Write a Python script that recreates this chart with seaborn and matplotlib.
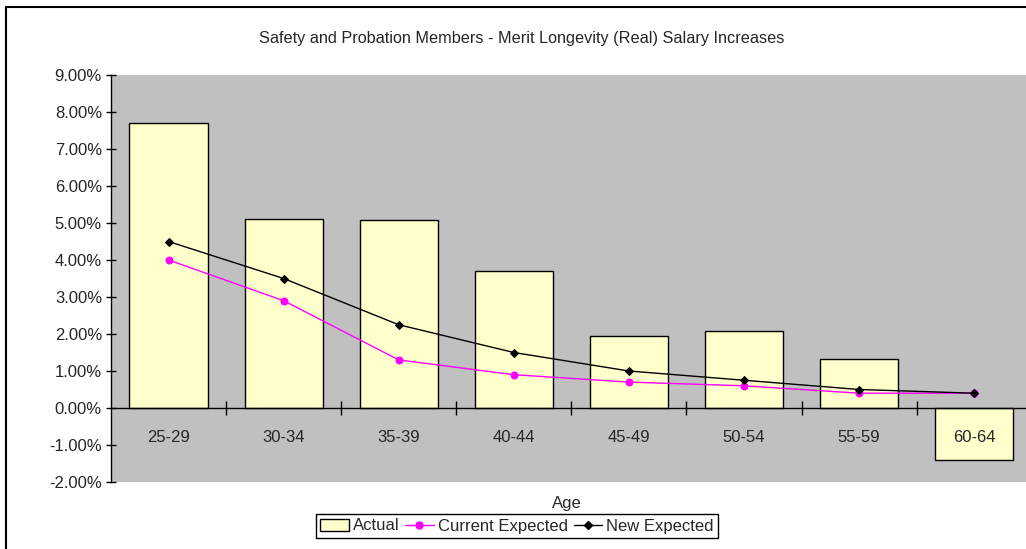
import matplotlib
matplotlib.use("Agg")
import matplotlib.pyplot as plt
import seaborn as sns
import pandas as pd
from matplotlib.patches import Rectangle
from matplotlib.lines import Line2D
from matplotlib.ticker import FuncFormatter, FixedLocator

categories = ["25-29", "30-34", "35-39", "40-44", "45-49", "50-54", "55-59", "60-64"]
actual = [7.70, 5.12, 5.07, 3.69, 1.95, 2.09, 1.33, -1.41]
current_expected = [4.0, 2.9, 1.3, 0.9, 0.7, 0.6, 0.4, 0.4]
new_expected = [4.5, 3.5, 2.25, 1.5, 1.0, 0.75, 0.5, 0.4]

df = pd.DataFrame({"Age": categories, "Actual": actual,
                   "Current": current_expected, "New": new_expected})

sns.set_style("white")
plt.rcParams["font.family"] = ["Liberation Sans", "DejaVu Sans"]

fig = plt.figure(figsize=(10.26, 5.49), dpi=100)
ax = fig.add_axes([111/1026, 1-482/549, 1-111/1026, (482-75)/549])
ax.set_facecolor("#C0C0C0")
ax.set_axisbelow(False)

sns.barplot(data=df, x="Age", y="Actual", ax=ax, color="#FFFFCC",
            edgecolor="black", linewidth=1, width=0.68, saturation=1, zorder=1)
sns.pointplot(data=df, x="Age", y="Current", ax=ax, color="#FF00FF",
              markers="o", markersize=5, linewidth=1, zorder=3)
sns.pointplot(data=df, x="Age", y="New", ax=ax, color="black",
              markers="D", markersize=4.5, linewidth=1, zorder=4)

ax.set_xlim(-0.5, 7.45)
ax.set_ylim(-2, 9)
ax.set_yticks(range(-2, 10))
ax.yaxis.set_major_formatter(FuncFormatter(lambda v, p: f"{v:.2f}%"))

for s in ["top", "right"]:
    ax.spines[s].set_visible(False)
ax.spines["left"].set_color("black")
ax.spines["left"].set_linewidth(1)
ax.spines["bottom"].set_position(("data", 0))
ax.spines["bottom"].set_color("black")
ax.spines["bottom"].set_linewidth(1)

ax.tick_params(axis="y", direction="inout", length=7, width=1, color="black",
               labelsize=12, pad=3, left=True)
ax.xaxis.set_minor_locator(FixedLocator([i + 0.5 for i in range(7)]))
ax.tick_params(axis="x", which="major", length=0, pad=16, labelsize=12)
ax.tick_params(axis="x", which="minor", direction="inout", length=10,
               width=1, color="black", bottom=True)

ax.set_xlabel("Age", fontsize=12, labelpad=0)
ax.xaxis.set_label_coords((567-111)/915, 1 - (503-75)/407)
ax.xaxis.label.set_va("center")
ax.set_ylabel("")

fig.text(522/1026, 1-38/549,
         "Safety and Probation Members - Merit Longevity (Real) Salary Increases",
         fontsize=11.7, ha="center", va="center")

handles = [
    Rectangle((0, 0), 1, 1, facecolor="#FFFFCC", edgecolor="black", linewidth=1),
    Line2D([], [], color="#FF00FF", marker="o", markersize=5, linewidth=1),
    Line2D([], [], color="black", marker="D", markersize=4.5, linewidth=1),
]
leg = fig.legend(handles, ["Actual", "Current Expected", "New Expected"],
                 loc="center", bbox_to_anchor=(517/1026, 1-526/549), ncol=3,
                 frameon=True, fancybox=False, edgecolor="black",
                 fontsize=12, handlelength=1.7, handletextpad=0.25,
                 columnspacing=0.35, borderpad=0.25, borderaxespad=0,
                 framealpha=1)
leg.get_frame().set_linewidth(1)

fig.patches.append(Rectangle((6/1026, -0.1), 1.2, 1 - 7/549 + 0.1,
                             transform=fig.transFigure, fill=False,
                             edgecolor="black", linewidth=1.5))

fig.savefig("out.png", dpi=100)
